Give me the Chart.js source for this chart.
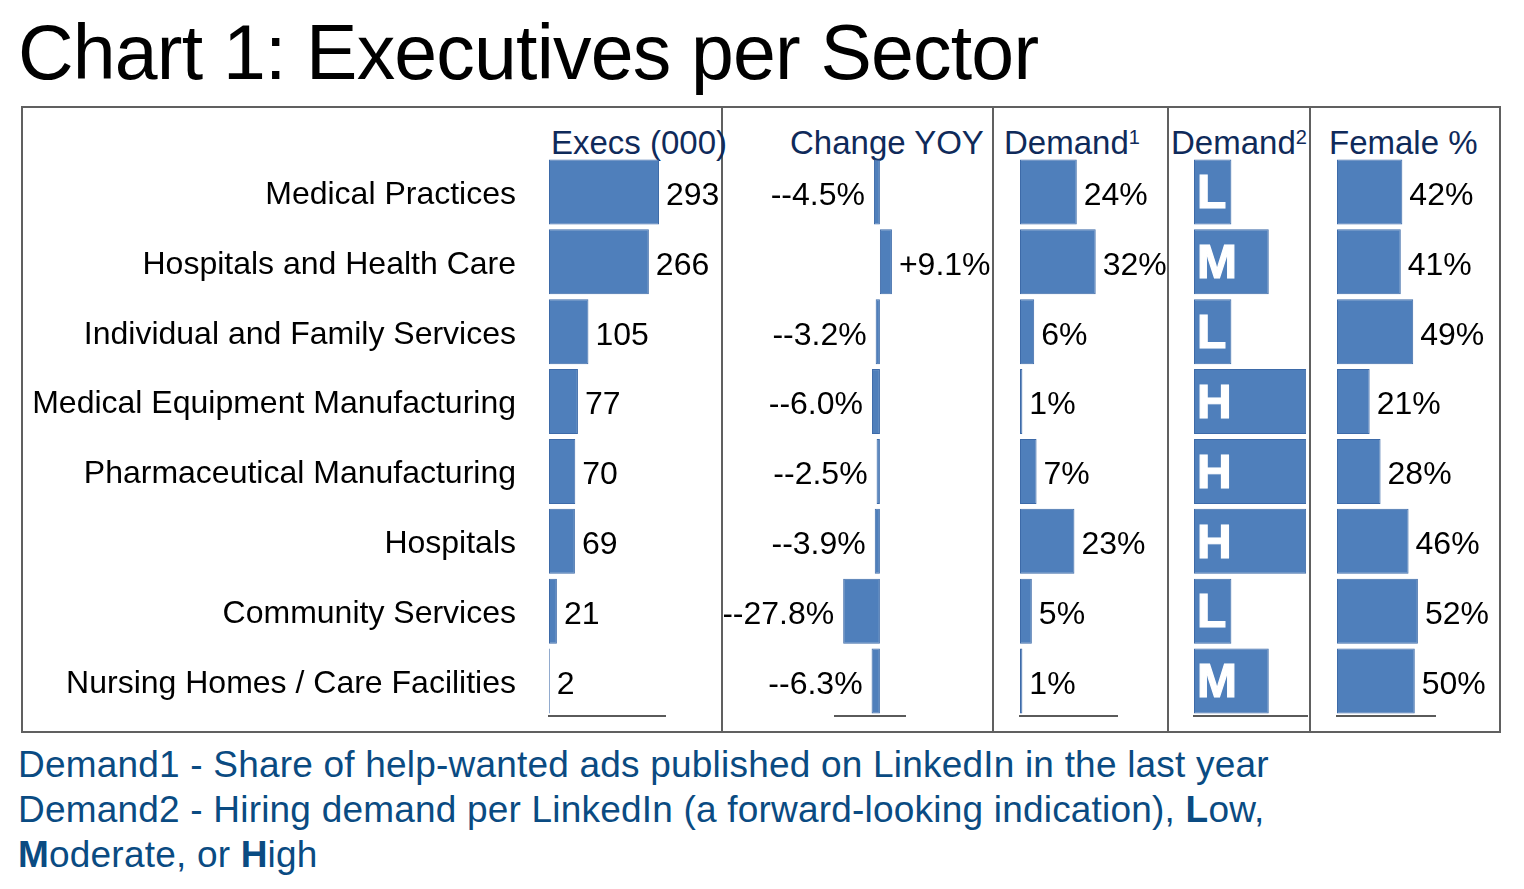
<!DOCTYPE html>
<html>
<head>
<meta charset="utf-8">
<title>Chart 1: Executives per Sector</title>
<script src="https://cdn.jsdelivr.net/npm/chart.js@4.4.1/dist/chart.umd.min.js"></script>
<style>
  body { margin: 0; width: 1524px; height: 889px; background: #fff; position: relative; overflow: hidden;
         font-family: "Liberation Sans", Arial, Helvetica, sans-serif; }
  .abs { position: absolute; }
  #title { left: 18px; top: 14px; font-size: 77px; line-height: 1; color: #000; letter-spacing: -0.8px; white-space: nowrap; }
  #frame { left: 21px; top: 106px; width: 1476px; height: 623px; border: 2px solid #606060; }
  .divider { top: 106px; width: 2px; height: 627px; background: #606060; }
  .head { top: 126px; font-size: 33px; line-height: 1; color: #0f2a5a; white-space: nowrap; }
  .head sup { font-size: 20px; vertical-align: top; position: relative; top: 1px; }
  .panel { top: 108px; }
  #notes { left: 18px; top: 742px; font-size: 37px; line-height: 45px; letter-spacing: 0.2px; color: #0a4b82; white-space: nowrap; }
</style>
</head>
<body>
<div id="title" class="abs">Chart 1: Executives per Sector</div>
<div id="frame" class="abs"></div>
<div class="abs divider" style="left:721px"></div>
<div class="abs divider" style="left:992px"></div>
<div class="abs divider" style="left:1167px"></div>
<div class="abs divider" style="left:1309px"></div>

<div class="abs head" style="left:551px">Execs (000)</div>
<div class="abs head" style="left:790px">Change YOY</div>
<div class="abs head" style="left:1004px">Demand<sup>1</sup></div>
<div class="abs head" style="left:1171px">Demand<sup>2</sup></div>
<div class="abs head" style="left:1329px">Female %</div>

<canvas id="cExecs" class="abs panel" style="left:23px" width="697" height="623"></canvas>
<canvas id="cChange" class="abs panel" style="left:724px" width="267" height="623"></canvas>
<canvas id="cDemand1" class="abs panel" style="left:995px" width="171" height="623"></canvas>
<canvas id="cDemand2" class="abs panel" style="left:1170px" width="138" height="623"></canvas>
<canvas id="cFemale" class="abs panel" style="left:1312px" width="187" height="623"></canvas>

<div id="notes" class="abs">Demand1 - Share of help-wanted ads published on LinkedIn in the last year<br>Demand2 - Hiring demand per LinkedIn (a forward-looking indication), <b>L</b>ow,<br><b>M</b>oderate, or <b>H</b>igh</div>

<script>
// data
const sectors = [
    'Medical Practices',
    'Hospitals and Health Care',
    'Individual and Family Services',
    'Medical Equipment Manufacturing',
    'Pharmaceutical Manufacturing',
    'Hospitals',
    'Community Services',
    'Nursing Homes / Care Facilities'
];
const execs = [293, 266, 105, 77, 70, 69, 21, 2];
const changeYoy = [-4.5, 9.1, -3.2, -6.0, -2.5, -3.9, -27.8, -6.3];
const demand1 = [24, 32, 6, 1, 7, 23, 5, 1];
const demand2 = ['L', 'M', 'L', 'H', 'H', 'H', 'L', 'M'];
const demandLevels = { L: 1, M: 2, H: 3 };
const female = [42, 41, 49, 21, 28, 46, 52, 50];

const BAR_FILL = '#4f7fbb';
const BAR_EDGE = '#3d6aa8';
const FONT = '"Liberation Sans", Arial, Helvetica, sans-serif';

// draws the value next to (or inside) each bar
const valueLabels = {
    id: 'valueLabels',
    afterDatasetsDraw(chart, args, opts) {
        const ctx = chart.ctx;
        const meta = chart.getDatasetMeta(0);
        ctx.save();
        ctx.textBaseline = 'middle';
        meta.data.forEach((bar, i) => {
            const raw = chart.data.datasets[0].data[i];
            const text = opts.format(raw, i);
            if (opts.inside) {
                ctx.font = 'bold 48px ' + FONT;
                ctx.textAlign = 'left';
                ctx.fillStyle = '#fff';
                ctx.lineWidth = 1.2;
                ctx.strokeStyle = '#fff';
                ctx.fillText(text, bar.base + 3, bar.y + 3);
                ctx.strokeText(text, bar.base + 3, bar.y + 3);
                return;
            }
            ctx.font = '32px ' + FONT;
            ctx.fillStyle = '#000';
            if (raw < 0) {
                ctx.textAlign = 'right';
                ctx.fillText(text, bar.x - 9, bar.y + 4);
            } else {
                ctx.textAlign = 'left';
                ctx.fillText(text, bar.x + 7, bar.y + 4);
            }
        });
        ctx.restore();
    }
};

function makePanel(id, values, cfg) {
    const showCats = !!cfg.showCats;
    return new Chart(document.getElementById(id), {
        type: 'bar',
        data: {
            labels: sectors,
            datasets: [{
                data: values,
                backgroundColor: BAR_FILL,
                borderColor: BAR_EDGE,
                borderWidth: 1,
                borderSkipped: false,
                categoryPercentage: 0.93,
                barPercentage: 1
            }]
        },
        options: {
            indexAxis: 'y',
            responsive: false,
            animation: false,
            layout: { padding: { top: 49, bottom: 15, left: cfg.padLeft, right: cfg.padRight } },
            plugins: {
                legend: { display: false },
                tooltip: { enabled: false },
                valueLabels: { format: cfg.format, inside: !!cfg.inside }
            },
            scales: {
                x: {
                    min: cfg.min,
                    max: cfg.max,
                    grid: { display: false, drawTicks: false },
                    ticks: { display: false },
                    border: { display: true, color: '#5a5a5a', width: 2 }
                },
                y: {
                    display: showCats,
                    grid: { display: false, drawTicks: false },
                    border: { display: false },
                    ticks: { color: '#000', padding: 33, labelOffset: 3, font: { family: FONT, size: 32 } },
                    afterFit: s => {
                        if (!showCats) return;
                        // fixed label column, no extra vertical padding from the labels
                        s.width = 526;
                        s.paddingTop = 0;
                        s.paddingBottom = 0;
                    }
                }
            }
        },
        plugins: [valueLabels]
    });
}

makePanel('cExecs', execs, {
    showCats: true, padLeft: 0, padRight: 55, min: 0, max: 309,
    format: v => String(v)
});
makePanel('cChange', changeYoy, {
    padLeft: 111, padRight: 86, min: -34, max: 19,
    format: v => (v < 0 ? '-' : '+') + v.toFixed(1) + '%'
});
makePanel('cDemand1', demand1, {
    padLeft: 25, padRight: 49, min: 0, max: 41,
    format: v => v + '%'
});
makePanel('cDemand2', demand2.map(d => demandLevels[d]), {
    padLeft: 24, padRight: 0, min: 0, max: 3.05, inside: true,
    format: (v, i) => demand2[i]
});
makePanel('cFemale', female, {
    padLeft: 25, padRight: 64, min: 0, max: 63,
    format: v => v + '%'
});
</script>
</body>
</html>
